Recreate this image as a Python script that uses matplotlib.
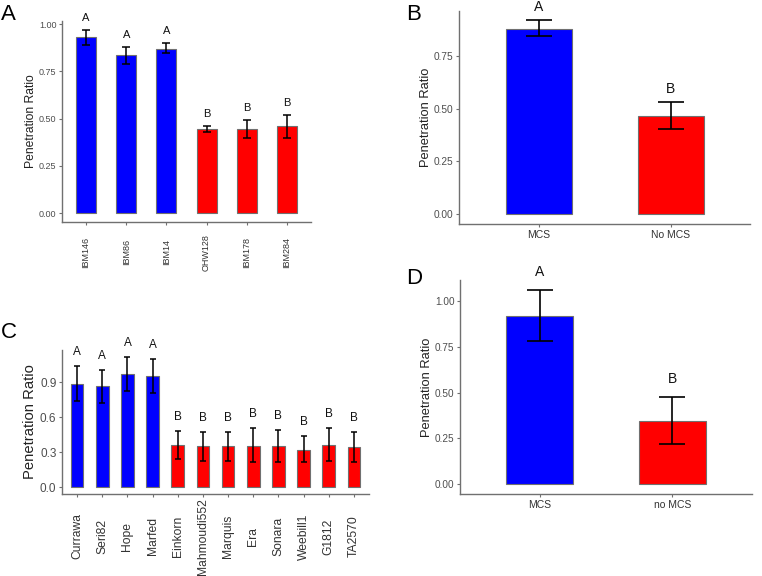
import matplotlib
matplotlib.use("Agg")
import matplotlib.pyplot as plt
import numpy as np

plt.rcParams['font.family'] = ['Liberation Sans', 'DejaVu Sans']

BLUE = '#0000ff'
RED = '#ff0000'

# panel A
a_names = ['IBM146', 'IBM86', 'IBM14', 'OHW128', 'IBM178', 'IBM284']
a_vals = [0.93, 0.835, 0.87, 0.445, 0.445, 0.46]
a_hi = [0.97, 0.88, 0.90, 0.46, 0.495, 0.52]
a_lo = [0.89, 0.79, 0.85, 0.43, 0.40, 0.40]
a_letters = ['A', 'A', 'A', 'B', 'B', 'B']
a_groups = [0, 0, 0, 1, 1, 1]

# panel B
b_names = ['MCS', 'No MCS']
b_vals = [0.878, 0.465]
b_hi = [0.917, 0.532]
b_lo = [0.843, 0.405]
b_letters = ['A', 'B']
b_groups = [0, 1]

# panel C
c_names = ['Currawa', 'Seri82', 'Hope', 'Marfed', 'Einkorn', 'Mahmoudi552',
           'Marquis', 'Era', 'Sonara', 'Weebill1', 'G1812', 'TA2570']
c_vals = [0.89, 0.866, 0.972, 0.952, 0.365, 0.353, 0.353, 0.359, 0.353, 0.322, 0.365, 0.348]
c_hi = [1.045, 1.006, 1.122, 1.097, 0.481, 0.479, 0.473, 0.507, 0.49, 0.439, 0.507, 0.479]
c_lo = [0.744, 0.727, 0.829, 0.812, 0.248, 0.231, 0.231, 0.214, 0.222, 0.214, 0.231, 0.217]
c_letters = ['A'] * 4 + ['B'] * 8
c_groups = [0] * 4 + [1] * 8

# panel D
d_names = ['MCS', 'no MCS']
d_vals = [0.92, 0.346]
d_hi = [1.062, 0.474]
d_lo = [0.78, 0.222]
d_letters = ['A', 'B']
d_groups = [0, 1]

W, H = 762, 576
fig = plt.figure(figsize=(W / 100, H / 100), dpi=100)


def add_ax(left, right, top, bottom):
    return fig.add_axes([left / W, 1 - bottom / H, (right - left) / W, (bottom - top) / H])


def panel(ax, names, vals, hi, lo, letters, groups, yticks, fmt,
          tick_fs, lab_fs, xfs, let_fs, cap, elw, let_off, rot, xlab_pad, lpad):
    n = len(names)
    x = np.arange(1, n + 1)
    cols = [BLUE if g == 0 else RED for g in groups]
    vals = np.array(vals)
    hi = np.array(hi)
    lo = np.array(lo)
    ax.bar(x, vals, width=0.5, color=cols, edgecolor='#707070', linewidth=0.8, zorder=2)
    ax.errorbar(x, vals, yerr=[vals - lo, hi - vals], fmt='none', ecolor='black',
                elinewidth=elw, capsize=cap, capthick=elw, zorder=3)
    for xi, h, t in zip(x, hi, letters):
        ax.annotate(t, (xi, h), xytext=(0, let_off), textcoords='offset pixels',
                    ha='center', va='bottom', fontsize=let_fs, color='#111111',
                    annotation_clip=False)
    top = hi.max()
    ax.set_ylim(-0.05 * top, top * 1.05)
    ax.set_xlim(0.4, n + 0.6)
    ax.set_yticks(yticks)
    ax.set_yticklabels([fmt.format(v) for v in yticks], fontsize=tick_fs, color='#4d4d4d')
    ax.set_xticks(x)
    if rot:
        ax.set_xticklabels(names, rotation=90, fontsize=xfs, color='#333333', va='center')
    else:
        ax.set_xticklabels(names, fontsize=xfs, color='#333333')
    ax.tick_params(axis='x', pad=xlab_pad)
    ax.set_ylabel('Penetration Ratio', fontsize=lab_fs, color='#222222', labelpad=lpad)
    for s in ['top', 'right']:
        ax.spines[s].set_visible(False)
    for s in ['left', 'bottom']:
        ax.spines[s].set_color('#707070')
        ax.spines[s].set_linewidth(1.0)
    ax.tick_params(length=2.5, width=0.8, color='#707070')
    ax.tick_params(axis='y', pad=1.5)


axA = add_ax(62, 311, 20.7, 222.3)
panel(axA, a_names, a_vals, a_hi, a_lo, a_letters, a_groups,
      [0, 0.25, 0.5, 0.75, 1.0], '{:.2f}', 6.5, 8.7, 6.5, 8, 3.2, 1.1, 7, True, 19, 1.5)

axB = add_ax(459.3, 750, 10.7, 224)
panel(axB, b_names, b_vals, b_hi, b_lo, b_letters, b_groups,
      [0, 0.25, 0.5, 0.75], '{:.2f}', 7.3, 9.3, 7.5, 10, 9.7, 1.2, 6, False, 1.5, 1.5)

axC = add_ax(62, 369, 350, 494)
panel(axC, c_names, c_vals, c_hi, c_lo, c_letters, c_groups,
      [0, 0.3, 0.6, 0.9], '{:.1f}', 8.5, 10.6, 8.7, 8.5, 2.5, 1.1, 8, True, 28, 2)

axD = add_ax(460, 752, 280, 494)
panel(axD, d_names, d_vals, d_hi, d_lo, d_letters, d_groups,
      [0, 0.25, 0.5, 0.75, 1.0], '{:.2f}', 7.2, 9.3, 7.5, 10, 9.7, 1.2, 11, False, 1.5, 1.5)

for lab, px, py in [('A', 1, 4), ('B', 406, 4), ('C', 1, 322), ('D', 406, 268)]:
    fig.text(px / W, 1 - py / H, lab, fontsize=16, va='top', ha='left', color='black')

fig.savefig('out.png', dpi=100)
